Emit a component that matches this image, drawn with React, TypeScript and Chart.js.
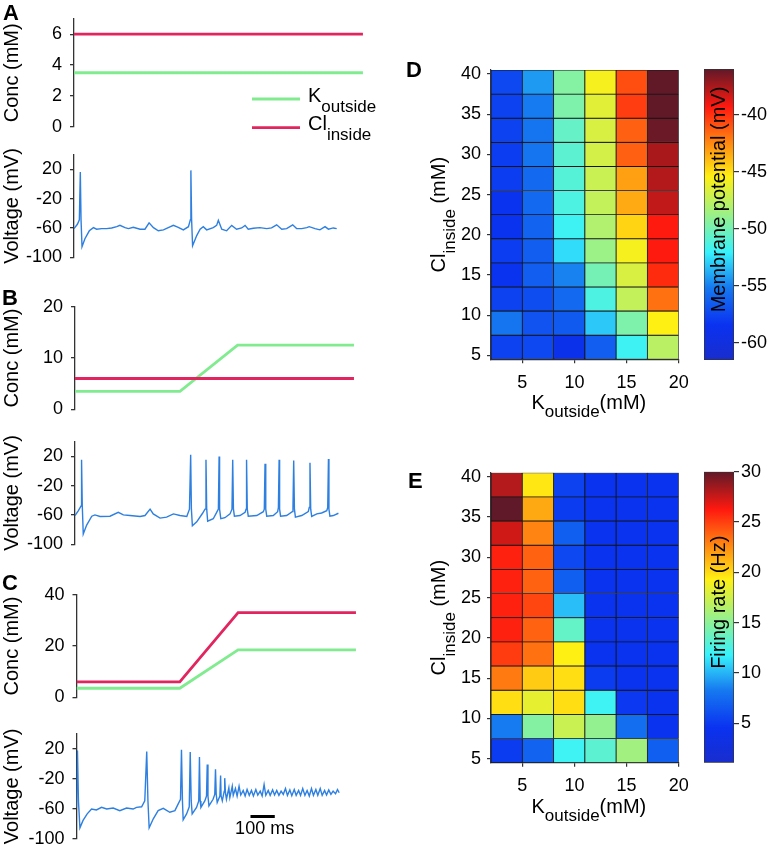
import React, { useEffect, useRef } from 'react';
import { Chart, registerables } from 'chart.js';

Chart.register(...registerables);

const FONT = '"Liberation Sans", Arial, Helvetica, sans-serif';
Chart.defaults.font.family = FONT;
Chart.defaults.color = '#000';

// ---------------- data ----------------
const concTicksA = [0, 2, 4, 6];
const concTicksB = [0, 10, 20];
const concTicksC = [0, 20, 40];
const voltageTicks = [-100, -60, -20, 20];

// [time ms, concentration mM]
const kOutsideA: [number, number][] = [[0, 3.5], [1189, 3.5]];
const clInsideA: [number, number][] = [[0, 6], [1189, 6]];
const kOutsideB: [number, number][] = [[0, 3.5], [432, 3.5], [669, 12.5], [1148, 12.5]];
const clInsideB: [number, number][] = [[0, 6], [1148, 6]];
const kOutsideC: [number, number][] = [[0, 3.5], [425, 3.5], [665, 18.5], [1150, 18.5]];
const clInsideC: [number, number][] = [[0, 6], [425, 6], [665, 33], [1150, 33]];

// [time ms, voltage mV]
const voltageA: [number, number][] = [
  [0, -61], [14, -55], [22, -49], [26, 16.5], [29, -49], [33, -85.7], [45, -74.8], [63, -63.9], [80, -59.6], [93, -61.7],
  [114, -60.9], [134, -60.9], [155, -60], [176, -58.3], [189, -56.5], [210, -59.6], [224, -60.9], [244, -59.1], [272, -61.7], [292, -61.7],
  [309, -53], [327, -59.6], [347, -63.9], [368, -62.6], [388, -59.6], [409, -56.5], [429, -59.1], [450, -62.6], [471, -58.3], [479, -48.7],
  [481, 18.7], [484, -48.7], [488, -84.3], [505, -70.4], [519, -61.7], [532, -58.3], [546, -62.6], [573, -59.6], [587, -56.5], [594, -49.6],
  [608, -61.7], [628, -63.9], [649, -56.5], [669, -61.7], [690, -60], [704, -56.5], [717, -61.7], [738, -60.4], [765, -59.6], [793, -60.9],
  [813, -60], [834, -55.7], [855, -61.7], [875, -60.9], [900, -55.7], [916, -60.9], [937, -60.9], [958, -59.6], [968, -58.3], [992, -60.9],
  [1012, -62.6], [1033, -58.3], [1047, -61.7], [1067, -60], [1081, -60.9],
];
const voltageB: [number, number][] = [
  [0, -60.8], [14, -54.2], [25, -47.7], [27, 15.6], [30, -47.7], [34, -86.1], [48, -73.9], [69, -61.7], [82, -59.9], [103, -62.1],
  [144, -61.7], [178, -56.4], [199, -59.9], [226, -60.8], [268, -62.1], [288, -60.8], [309, -52.1], [322, -58.6], [350, -64.3], [377, -63],
  [405, -58.6], [432, -60.8], [460, -62.1], [471, -52.1], [476, 22.2], [479, -52.1], [483, -74.8], [501, -69.5], [525, -57.7], [535, -52.1],
  [539, 15.6], [542, -52.1], [546, -68.6], [569, -65.2], [583, -56.4], [590, -52.1], [593, 20], [595, -52.1], [600, -65.2], [617, -63.8],
  [638, -58.6], [646, -52.1], [649, 15.6], [652, -52.1], [656, -61.7], [679, -60.8], [700, -56.4], [704, -52.1], [706, 15.6], [709, -52.1],
  [713, -61.7], [748, -60.8], [775, -55.5], [779, -52.1], [782, 10], [785, -52.1], [789, -61.7], [816, -60.8], [834, -55.5], [837, -49.9],
  [840, 15.6], [842, -52.1], [846, -61.7], [871, -60.8], [894, -55.5], [897, -49.9], [900, 14.3], [903, -52.1], [907, -63], [933, -60.8],
  [960, -55.5], [964, -49.9], [967, 11.3], [970, -52.1], [974, -62.1], [995, -58.6], [1015, -57.3], [1036, -54.2], [1040, -49.9], [1043, 16.5],
  [1045, -52.1], [1049, -61.7], [1063, -60.8], [1084, -57.7],
];
const voltageC: [number, number][] = [
  [0, -58], [4, 17.8], [8, -49.3], [14, -85.2], [27, -75.2], [44, -66.6], [62, -60.1], [82, -61.4], [103, -57.9], [124, -60.1],
  [151, -58.8], [178, -62.3], [206, -58.8], [233, -60.1], [247, -57.9], [268, -57.1], [281, -49.3], [289, 16.5], [294, -49.3], [299, -85.2],
  [316, -73.1], [336, -62.3], [357, -59.2], [384, -64.4], [405, -62.3], [418, -53.6], [428, -47.1], [432, 18.7], [436, -49.3], [439, -74.4],
  [453, -66.6], [464, -57.1], [468, 15.7], [472, -49.3], [476, -66.6], [494, -57.9], [503, -49.3], [506, 9.2], [509, -49.3], [512, -57.9],
  [528, -49.3], [535, -42.8], [538, -0.8], [541, -42.8], [545, -55.8], [562, -47.1], [569, -40.6], [572, -7.3], [575, -40.6], [579, -51.4],
  [590, -42.8], [593, -15.5], [595, -42.8], [600, -49.3], [608, -36.3], [610, -19], [613, -38.4], [617, -47.1], [627, -31.9], [631, -44.9],
  [641, -29.8], [645, -41.9], [654, -32.8], [661, -42.8], [669, -29.8], [676, -41.5], [686, -35.4], [694, -42.8], [702, -34.1], [711, -41.9],
  [720, -35.4], [728, -42.8], [738, -34.1], [746, -41.5], [756, -36.3], [764, -42.8], [772, -27.6], [779, -41.9], [789, -35.4], [797, -41.9],
  [807, -34.6], [815, -41.5], [824, -35.4], [833, -41.9], [842, -36.3], [851, -40.6], [860, -32.8], [868, -41.9], [878, -34.6], [886, -42.3],
  [896, -34.1], [904, -41.9], [914, -35.4], [922, -41.9], [931, -32.8], [940, -41.9], [949, -35.4], [958, -42.8], [967, -32.8], [975, -41.9],
  [985, -34.1], [993, -41.9], [1003, -32.8], [1011, -41.9], [1021, -35.4], [1029, -41.5], [1038, -34.6], [1047, -40.6], [1056, -36.3], [1066, -39.7],
  [1074, -34.1], [1081, -38.4],
];
const scaleBarStart = 716;
const scaleBarLength = 100;
const scaleBarLevel = -70;

const kOutsideGrid = [3.5, 6.5, 9.5, 12.5, 15.5, 18.5];
const clInsideGrid = [6, 9, 12, 15, 18, 21, 24, 27, 30, 33, 36, 39];
const gridXTicks = [5, 10, 15, 20];
const gridYTicks = [5, 10, 15, 20, 25, 30, 35, 40];

// rows follow clInsideGrid (ascending), columns follow kOutsideGrid
const membranePotential = [
  [-57.7, -57.4, -58.9, -56.4, -51.8, -47.7],
  [-55.4, -56.9, -56.6, -53.1, -49.7, -45.4],
  [-57.7, -57.2, -55.9, -51.3, -47.4, -41.8],
  [-58.4, -56.4, -54.9, -50.0, -46.7, -39.8],
  [-57.9, -56.4, -52.6, -48.7, -45.7, -39.3],
  [-58.4, -56.1, -51.8, -48.0, -44.6, -39.3],
  [-58.4, -55.9, -51.3, -47.4, -43.4, -38.0],
  [-57.9, -55.9, -51.0, -47.2, -43.1, -37.7],
  [-57.9, -55.4, -50.8, -46.9, -41.3, -37.5],
  [-57.7, -55.4, -50.5, -46.7, -41.3, -36.2],
  [-57.7, -55.1, -49.7, -46.4, -40.3, -36.0],
  [-57.4, -54.3, -49.5, -45.7, -40.8, -36.0],
];
const firingRate = [
  [5.1, 7.2, 12.1, 13.2, 15.8, 6.9],
  [8.3, 14.7, 17.3, 15.3, 7.7, 4.6],
  [19.9, 18.4, 19.9, 12.1, 4.9, 4.6],
  [23.1, 20.5, 19.9, 5.1, 4.6, 4.6],
  [25.1, 23.4, 19.3, 4.6, 4.6, 4.6],
  [26.0, 23.9, 13.5, 4.6, 4.6, 4.6],
  [26.0, 24.8, 10.3, 4.6, 4.6, 4.6],
  [26.0, 23.9, 6.9, 4.6, 4.6, 4.6],
  [26.0, 23.9, 5.7, 4.6, 4.6, 4.6],
  [27.4, 22.8, 6.9, 4.6, 4.6, 4.6],
  [30.0, 21.6, 5.1, 4.6, 4.6, 4.6],
  [28.0, 19.6, 5.4, 4.6, 4.6, 4.6],
];
const potentialTicks = [-60, -55, -50, -45, -40];
const potentialRange = [-61.49, -35.96];
const rateTicks = [5, 10, 15, 20, 25, 30];
const rateRange = [1.1, 30];

// ---------------- styling helpers ----------------
const GREEN = '#80ec8f';
const RED = '#e2245f';
const BLUE = '#2d7fe0';
const AXIS = '#333333';
const PX_PER_MS = 0.243;
const LEFT_RIGHT_EDGE = 363;

const CMAP: [number, number[]][] = [
  [0, [25, 45, 205]],
  [0.12, [10, 50, 240]],
  [0.25, [22, 122, 240]],
  [0.37, [55, 242, 252]],
  [0.63, [255, 240, 20]],
  [0.87, [255, 25, 15]],
  [1, [95, 25, 40]],
];
function colorFor(t: number) {
  const u = Math.max(0, Math.min(1, t));
  for (let i = 1; i < CMAP.length; i++) {
    if (u <= CMAP[i][0]) {
      const [t0, c0] = CMAP[i - 1];
      const [t1, c1] = CMAP[i];
      const f = (u - t0) / (t1 - t0);
      const c = c0.map((v, k) => Math.round(v + (c1[k] - v) * f));
      return `rgb(${c[0]},${c[1]},${c[2]})`;
    }
  }
  const c = CMAP[CMAP.length - 1][1];
  return `rgb(${c[0]},${c[1]},${c[2]})`;
}

type Seg = { text: string; size: number; dy?: number };
type RichItem = { x: number; y: number; rot?: number; segs: Seg[]; align?: 'left' | 'center'; baseline?: CanvasTextBaseline };
function drawRich(ctx: CanvasRenderingContext2D, it: RichItem) {
  ctx.save();
  ctx.translate(it.x, it.y);
  if (it.rot) ctx.rotate(it.rot);
  ctx.fillStyle = '#000';
  ctx.textAlign = 'left';
  ctx.textBaseline = it.baseline || 'alphabetic';
  const widths = it.segs.map((s) => {
    ctx.font = `${s.size}px ${FONT}`;
    return ctx.measureText(s.text).width;
  });
  const total = widths.reduce((a, b) => a + b, 0);
  let cx = it.align === 'left' ? 0 : -total / 2;
  it.segs.forEach((s, i) => {
    ctx.font = `${s.size}px ${FONT}`;
    ctx.fillText(s.text, cx, s.dy || 0);
    cx += widths[i];
  });
  ctx.restore();
}
function richPlugin(id: string, items: (chart: any) => RichItem[]) {
  return {
    id,
    afterDraw(chart: any) {
      items(chart).forEach((it) => drawRich(chart.ctx, it));
    },
  };
}
const toXY = (arr: [number, number][]) => arr.map(([x, y]) => ({ x, y }));
const setTicks = (vals: number[]) => (s: any) => {
  s.ticks = vals.map((v) => ({ value: v }));
};

// ---------------- line panels ----------------
type LineProps = {
  top: number; height: number; axisX: number; areaTop: number; areaBottom: number;
  yMin: number; yMax: number; yTicks: number[]; title: string; datasets: any[]; plugins?: any[];
};
function LinePanel(p: LineProps) {
  const ref = useRef<HTMLCanvasElement>(null);
  useEffect(() => {
    const chart = new Chart(ref.current!, {
      type: 'line',
      data: { datasets: p.datasets },
      options: {
        animation: false,
        responsive: false,
        devicePixelRatio: 1,
        layout: {
          padding: { left: 0, right: 380 - LEFT_RIGHT_EDGE, top: p.areaTop - p.top, bottom: p.top + p.height - p.areaBottom },
        },
        plugins: { legend: { display: false }, tooltip: { enabled: false } },
        elements: { point: { radius: 0 }, line: { tension: 0 } },
        scales: {
          x: { type: 'linear', min: 0, max: (LEFT_RIGHT_EDGE - p.axisX) / PX_PER_MS, display: false },
          y: {
            type: 'linear',
            min: p.yMin,
            max: p.yMax,
            afterBuildTicks: setTicks(p.yTicks),
            afterFit: (s: any) => { s.width = p.axisX; },
            grid: { drawOnChartArea: false, tickLength: 4, color: AXIS, lineWidth: 1.3 },
            border: { display: true, color: AXIS, width: 1.3 },
            ticks: { padding: 8, color: '#000', font: { size: 18, family: FONT } },
            title: { display: true, text: p.title, color: '#000', font: { size: 20, family: FONT }, padding: 0 },
          },
        },
      } as any,
      plugins: p.plugins || [],
    });
    return () => chart.destroy();
  }, []);
  return <canvas ref={ref} width={380} height={p.height} style={{ position: 'absolute', left: 0, top: p.top }} />;
}

const concSet = (data: [number, number][], color: string) => ({
  data: toXY(data), borderColor: color, borderWidth: 2.8, borderCapStyle: 'butt', fill: false,
});
const voltSet = (data: [number, number][]) => ({
  data: toXY(data), borderColor: BLUE, borderWidth: 1.4, fill: false,
});

const legendPlugin = {
  id: 'concLegend',
  afterDraw(chart: any) {
    const ctx = chart.ctx as CanvasRenderingContext2D;
    ctx.save();
    ctx.lineWidth = 2.8;
    ctx.strokeStyle = GREEN;
    ctx.beginPath(); ctx.moveTo(252, 99); ctx.lineTo(300, 99); ctx.stroke();
    ctx.strokeStyle = RED;
    ctx.beginPath(); ctx.moveTo(252, 127.7); ctx.lineTo(300, 127.7); ctx.stroke();
    ctx.restore();
    drawRich(ctx, { x: 308, y: 102, align: 'left', segs: [{ text: 'K', size: 20 }, { text: 'outside', size: 17, dy: 10 }] });
    drawRich(ctx, { x: 308, y: 130, align: 'left', segs: [{ text: 'Cl', size: 20 }, { text: 'inside', size: 17, dy: 10 }] });
  },
};

const scaleBarPlugin = {
  id: 'scaleBarLabel',
  afterDraw(chart: any) {
    const xs = chart.scales.x;
    const ys = chart.scales.y;
    drawRich(chart.ctx, {
      x: xs.getPixelForValue(scaleBarStart + scaleBarLength / 2) + 2,
      y: ys.getPixelForValue(scaleBarLevel) + 13,
      baseline: 'middle',
      segs: [{ text: '100 ms', size: 18 }],
    });
  },
};

// ---------------- heatmaps ----------------
type HeatProps = { top: number; areaTop: number; areaBottom: number; values: number[][]; range: number[] };
function HeatmapPanel(p: HeatProps) {
  const ref = useRef<HTMLCanvasElement>(null);
  const H = 390;
  useEffect(() => {
    const halfX = (kOutsideGrid[1] - kOutsideGrid[0]) / 2;
    const halfY = (clInsideGrid[1] - clInsideGrid[0]) / 2;
    const cells: any[] = [];
    const colors: string[] = [];
    clInsideGrid.forEach((cl, i) => {
      kOutsideGrid.forEach((k, j) => {
        cells.push({ x: k, y: [cl - halfY, cl + halfY] });
        colors.push(colorFor((p.values[i][j] - p.range[0]) / (p.range[1] - p.range[0])));
      });
    });
    const chart = new Chart(ref.current!, {
      type: 'bar',
      data: {
        datasets: [{
          data: cells, backgroundColor: colors, borderColor: '#151515', borderWidth: 0.8,
          borderSkipped: false, barPercentage: 1, categoryPercentage: 1,
        }],
      },
      options: {
        animation: false,
        responsive: false,
        devicePixelRatio: 1,
        layout: { padding: { left: 0, right: 21.3, top: p.areaTop - p.top, bottom: p.top + H - p.areaBottom - 40 } },
        plugins: { legend: { display: false }, tooltip: { enabled: false } },
        scales: {
          x: {
            type: 'linear', min: kOutsideGrid[0] - halfX, max: kOutsideGrid[kOutsideGrid.length - 1] + halfX, offset: false,
            afterBuildTicks: setTicks(gridXTicks),
            afterFit: (s: any) => { s.height = 40; },
            grid: { drawOnChartArea: false, offset: false, tickLength: 4, color: AXIS, lineWidth: 1.2 },
            border: { display: true, color: AXIS, width: 1.2 },
            ticks: { padding: 9, color: '#000', font: { size: 18, family: FONT }, maxRotation: 0 },
          },
          y: {
            type: 'linear', min: clInsideGrid[0] - halfY, max: clInsideGrid[clInsideGrid.length - 1] + halfY,
            afterBuildTicks: setTicks(gridYTicks),
            afterFit: (s: any) => { s.width = 101; },
            grid: { drawOnChartArea: false, tickLength: 4, color: AXIS, lineWidth: 1.2 },
            border: { display: true, color: AXIS, width: 1.2 },
            ticks: { padding: 6, color: '#000', font: { size: 18, family: FONT } },
          },
        },
      } as any,
      plugins: [
        richPlugin('heatTitles', (c) => {
          const a = c.chartArea;
          return [
            {
              x: a.left - 46, y: (a.top + a.bottom) / 2, rot: -Math.PI / 2,
              segs: [{ text: 'Cl', size: 20 }, { text: 'inside', size: 17, dy: 10 }, { text: ' (mM)', size: 20 }],
            },
            {
              x: (a.left + a.right) / 2 + 4, y: a.bottom + 50,
              segs: [{ text: 'K', size: 20 }, { text: 'outside', size: 17, dy: 8 }, { text: '(mM)', size: 20 }],
            },
          ];
        }),
      ],
    });
    return () => chart.destroy();
  }, []);
  return <canvas ref={ref} width={310} height={H} style={{ position: 'absolute', left: 390, top: p.top }} />;
}

type BarProps = { top: number; areaTop: number; areaBottom: number; range: number[]; ticks: number[]; title: string };
function ColorbarPanel(p: BarProps) {
  const ref = useRef<HTMLCanvasElement>(null);
  const H = 340;
  useEffect(() => {
    const chart = new Chart(ref.current!, {
      type: 'bar',
      data: {
        labels: [''],
        datasets: [{
          data: [[p.range[0], p.range[1]]],
          backgroundColor: (c: any) => {
            const a = c.chart.chartArea;
            if (!a) return 'blue';
            const g = c.chart.ctx.createLinearGradient(0, a.bottom, 0, a.top);
            CMAP.forEach(([t, col]) => g.addColorStop(t, `rgb(${col[0]},${col[1]},${col[2]})`));
            return g;
          },
          borderColor: '#333', borderWidth: 1, borderSkipped: false, barPercentage: 1, categoryPercentage: 1,
        }],
      },
      options: {
        animation: false,
        responsive: false,
        devicePixelRatio: 1,
        layout: { padding: { left: 14, right: 0, top: p.areaTop - p.top, bottom: p.top + H - p.areaBottom } },
        plugins: { legend: { display: false }, tooltip: { enabled: false } },
        scales: {
          x: { display: false },
          y: {
            position: 'right', min: p.range[0], max: p.range[1],
            afterBuildTicks: setTicks(p.ticks),
            afterFit: (s: any) => { s.width = 37; },
            grid: { drawOnChartArea: false, tickLength: 5, color: AXIS, lineWidth: 1.2 },
            border: { display: false },
            ticks: { padding: 2, color: '#000', font: { size: 18, family: FONT } },
          },
        },
      } as any,
      plugins: [
        richPlugin('cbTitle', (c) => {
          const a = c.chartArea;
          return [{ x: (a.left + a.right) / 2, y: (a.top + a.bottom) / 2 - 15, rot: -Math.PI / 2, baseline: 'middle', segs: [{ text: p.title, size: 20 }] }];
        }),
      ],
    });
    return () => chart.destroy();
  }, []);
  return <canvas ref={ref} width={81} height={H} style={{ position: 'absolute', left: 690, top: p.top }} />;
}

const letterStyle = (left: number, top: number): React.CSSProperties => ({
  position: 'absolute', left, top, fontFamily: FONT, fontWeight: 'bold', fontSize: 22, lineHeight: '22px', color: '#000',
});

export default function App() {
  return (
    <div style={{ position: 'fixed', left: 0, top: 0, width: 771, height: 849, overflow: 'hidden', background: '#fff' }}>
      <LinePanel top={0} height={150} axisX={74} areaTop={18} areaBottom={126.7} yMin={0} yMax={7} yTicks={concTicksA}
        title="Conc (mM)" datasets={[concSet(clInsideA, RED), concSet(kOutsideA, GREEN)]} plugins={[legendPlugin]} />
      <LinePanel top={136} height={140} axisX={74} areaTop={151.7} areaBottom={259.3} yMin={-100} yMax={40} yTicks={voltageTicks}
        title="Voltage (mV)" datasets={[voltSet(voltageA)]} />
      <LinePanel top={288} height={140} axisX={75} areaTop={305} areaBottom={413.3} yMin={0} yMax={20} yTicks={concTicksB}
        title="Conc (mM)" datasets={[concSet(clInsideB, RED), concSet(kOutsideB, GREEN)]} />
      <LinePanel top={423} height={140} axisX={75} areaTop={439.7} areaBottom={546.7} yMin={-100} yMax={40} yTicks={voltageTicks}
        title="Voltage (mV)" datasets={[voltSet(voltageB)]} />
      <LinePanel top={576} height={140} axisX={76.5} areaTop={593.3} areaBottom={701} yMin={0} yMax={40} yTicks={concTicksC}
        title="Conc (mM)" datasets={[concSet(clInsideC, RED), concSet(kOutsideC, GREEN)]} />
      <LinePanel top={715} height={150} axisX={76.5} areaTop={731.7} areaBottom={839} yMin={-100} yMax={40} yTicks={voltageTicks}
        title="Voltage (mV)"
        datasets={[
          voltSet(voltageC),
          { data: [{ x: scaleBarStart, y: scaleBarLevel }, { x: scaleBarStart + scaleBarLength, y: scaleBarLevel }], borderColor: '#000', borderWidth: 3, borderCapStyle: 'butt' },
        ]}
        plugins={[scaleBarPlugin]} />
      <HeatmapPanel top={40} areaTop={70} areaBottom={359.3} values={membranePotential} range={potentialRange} />
      <ColorbarPanel top={40} areaTop={69} areaBottom={360} range={potentialRange} ticks={potentialTicks} title="Membrane potential (mV)" />
      <HeatmapPanel top={440} areaTop={472.7} areaBottom={762.7} values={firingRate} range={rateRange} />
      <ColorbarPanel top={440} areaTop={471.7} areaBottom={762.7} range={rateRange} ticks={rateTicks} title="Firing rate (Hz)" />
      <div style={letterStyle(3, 2)}>A</div>
      <div style={letterStyle(2, 287)}>B</div>
      <div style={letterStyle(2, 572)}>C</div>
      <div style={letterStyle(406, 59)}>D</div>
      <div style={letterStyle(408, 470)}>E</div>
    </div>
  );
}
